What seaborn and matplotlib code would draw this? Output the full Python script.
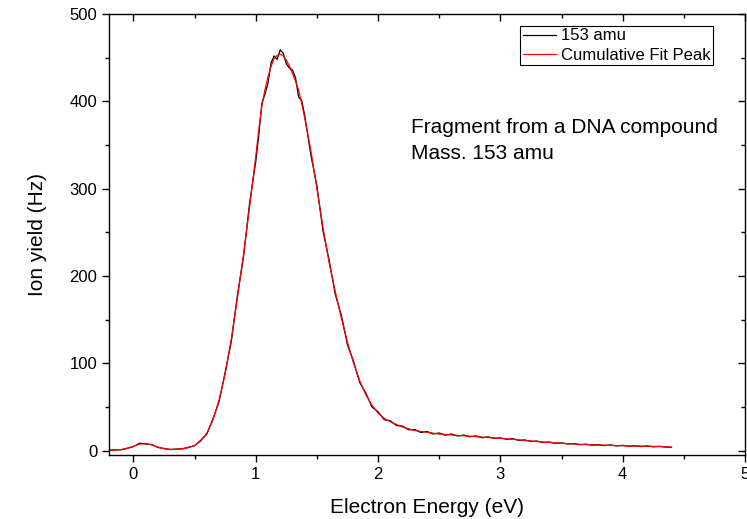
import numpy as np
import pandas as pd
import matplotlib
matplotlib.use("Agg")
import matplotlib.pyplot as plt
import seaborn as sns
from matplotlib.ticker import MultipleLocator

# Electron energy grid (eV)
energy = [-0.20, -0.15, -0.10, -0.05, 0.00, 0.05, 0.10, 0.15, 0.20, 0.25,
          0.30, 0.35, 0.40, 0.45, 0.50, 0.55, 0.60, 0.65, 0.70, 0.75,
          0.80, 0.85, 0.90, 0.95, 1.00, 1.025, 1.05, 1.075, 1.10, 1.125,
          1.15, 1.175, 1.20, 1.225, 1.25, 1.275, 1.30, 1.325, 1.35, 1.375,
          1.40, 1.45, 1.50, 1.55, 1.60, 1.65, 1.70, 1.75,
          1.80, 1.85, 1.90, 1.95, 2.00, 2.05, 2.10, 2.15, 2.20, 2.25,
          2.30, 2.35, 2.40, 2.45, 2.50, 2.55, 2.60, 2.65, 2.70, 2.75,
          2.80, 2.85, 2.90, 2.95, 3.00, 3.05, 3.10, 3.15, 3.20, 3.25,
          3.30, 3.35, 3.40, 3.45, 3.50, 3.55, 3.60, 3.65, 3.70, 3.75,
          3.80, 3.85, 3.90, 3.95, 4.00, 4.05, 4.10, 4.15, 4.20, 4.25,
          4.30, 4.35, 4.40]

# Measured ion yield, 153 amu (Hz)
yield_153 = [0.3, 1.0, 1.0, 2.8, 4.6, 8.5, 7.6, 7.0, 3.6, 2.5,
             1.2, 1.8, 2.0, 3.9, 5.6, 11.8, 19.0, 36.5, 56, 90,
             125, 178, 222, 284, 331, 362, 398, 408, 421, 444,
             452, 448, 459, 455, 443, 438, 436, 427, 405, 401,
             384, 339, 303, 251, 218, 179, 155, 121,
             102, 78, 66, 50, 44.5, 35.5, 34.2, 28.8, 28.1, 23.9,
             24.2, 20.8, 22.0, 19.1, 20.2, 17.6, 19.1, 16.7, 17.8, 15.9,
             16.9, 14.8, 15.8, 14.0, 14.6, 13.0, 13.7, 11.8, 12.2, 10.5,
             11.0, 9.3, 9.9, 8.4, 8.9, 7.6, 8.1, 6.8, 7.4, 6.2,
             6.9, 5.8, 6.5, 5.4, 6.1, 5.0, 5.6, 4.7, 5.4, 4.4,
             5.0, 4.1, 3.8]

# Cumulative fit peak (Hz)
fit_peak = [0.5, 0.8, 1.2, 2.5, 5, 7.5, 8, 6.5, 4, 2.2,
            1.5, 1.5, 2.2, 3.5, 6, 11, 20, 35, 58, 88,
            128, 175, 225, 280, 337, 368, 395, 413, 428, 440,
            449, 452.5, 454, 452, 447, 440.5, 432, 423, 413, 398,
            381, 344, 300, 255, 215, 182, 152, 124,
            100, 80, 64, 52, 43, 37, 33, 30, 27, 25,
            23, 22, 21, 20, 19, 18.5, 18, 17.5, 17, 16.5,
            16, 15.5, 15, 14.5, 14, 13.5, 13, 12.3, 11.6, 11,
            10.4, 9.8, 9.3, 8.8, 8.4, 8, 7.6, 7.2, 6.9, 6.6,
            6.4, 6.2, 6, 5.8, 5.6, 5.4, 5.2, 5.1, 5, 4.8,
            4.6, 4.4, 4]

sns.set_style("ticks")
plt.rcParams['font.family'] = ['Liberation Sans', 'DejaVu Sans']
plt.rcParams['text.color'] = 'black'
plt.rcParams['axes.labelcolor'] = 'black'
plt.rcParams['xtick.color'] = 'black'
plt.rcParams['ytick.color'] = 'black'

df = pd.DataFrame({"energy": energy, "data": yield_153, "fit": fit_peak})

fig = plt.figure(figsize=(7.47, 5.19), dpi=100)
ax = fig.add_axes([109/747, 1-455/519, (745-109)/747, (455-14)/519])

sns.lineplot(data=df, x="energy", y="data", ax=ax, color="black", lw=0.9,
             label="153 amu")
sns.lineplot(data=df, x="energy", y="fit", ax=ax, color="red", lw=0.9,
             label="Cumulative Fit Peak")

ax.set_xlim(-0.2, 5)
ax.set_ylim(-5, 500)
ax.xaxis.set_major_locator(MultipleLocator(1))
ax.xaxis.set_minor_locator(MultipleLocator(0.5))
ax.yaxis.set_major_locator(MultipleLocator(100))
ax.yaxis.set_minor_locator(MultipleLocator(50))

for s in ax.spines.values():
    s.set_visible(True)
    s.set_linewidth(1.0)
    s.set_color("black")

ax.tick_params(axis="both", which="major", direction="out", length=5,
               width=1, labelsize=12, colors="black")
ax.tick_params(axis="both", which="minor", direction="out", length=3, width=1)
ax.tick_params(top=True, right=True, which="both")
# top/right ticks inward
for t in ax.xaxis.get_major_ticks() + ax.xaxis.get_minor_ticks():
    t.tick2line.set_marker(3)  # TICKDOWN
for t in ax.yaxis.get_major_ticks() + ax.yaxis.get_minor_ticks():
    t.tick2line.set_marker(0)  # TICKLEFT

ax.set_xlabel("Electron Energy (eV)", fontsize=15, labelpad=12, color="black")
ax.set_ylabel("Ion yield (Hz)", fontsize=15, labelpad=16, color="black")

ax.text(2.27, 355, "Fragment from a DNA compound\nMass. 153 amu",
        fontsize=15, ha="left", va="center", linespacing=1.5, color="black")

leg = ax.legend(loc="upper right", bbox_to_anchor=(713/747, 1-26/519),
                bbox_transform=fig.transFigure, borderaxespad=0,
                fontsize=12, frameon=True, fancybox=False, framealpha=1,
                edgecolor="black", handlelength=2.0, handletextpad=0.3,
                borderpad=0.15, labelspacing=0.25)
leg.get_frame().set_linewidth(0.8)
for txt in leg.get_texts():
    txt.set_color("black")

fig.savefig("out.png", dpi=100)
